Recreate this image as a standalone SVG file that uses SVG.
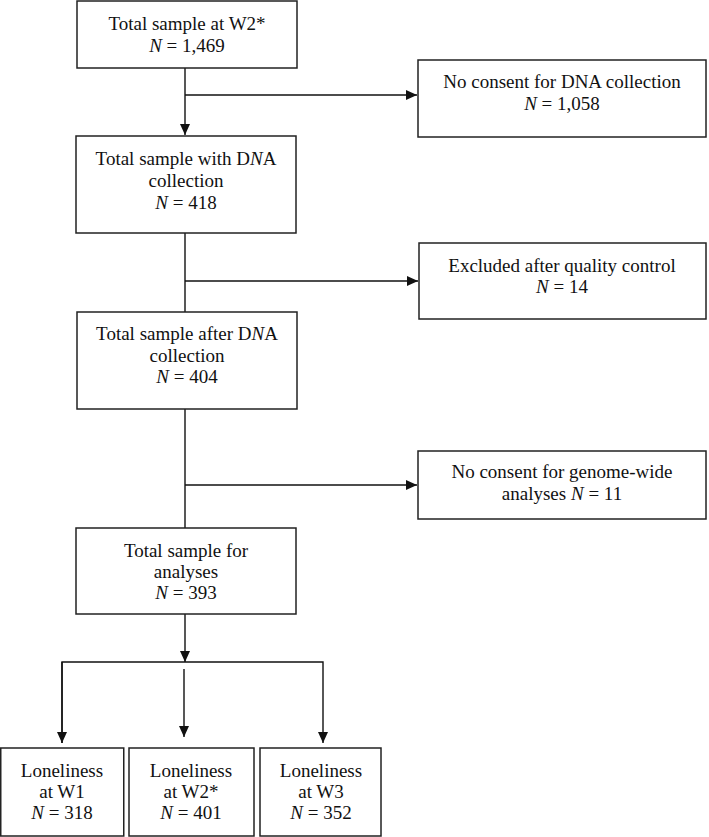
<svg xmlns="http://www.w3.org/2000/svg" width="709" height="837" viewBox="0 0 709 837">
<style>
.box{fill:#fff;stroke:#222;stroke-width:1.5}
.ln{fill:none;stroke:#111;stroke-width:1.4}
text{font-family:"Liberation Serif","Times New Roman",serif;font-size:19px;fill:#111;text-anchor:middle}
.i{font-style:italic}
</style>
<defs>
<marker id="ah" markerUnits="userSpaceOnUse" markerWidth="12" markerHeight="10" refX="11" refY="5" orient="auto">
<path d="M0,0 L11,5 L0,10 Z" fill="#111"/>
</marker>
</defs>
<rect width="709" height="837" fill="#fff"/>
<g id="connectors">
<path class="ln" d="M185,68 V135" marker-end="url(#ah)"/>
<path class="ln" d="M185,95 H417" marker-end="url(#ah)"/>
<path class="ln" d="M185,233 V312"/>
<path class="ln" d="M185,281 H418" marker-end="url(#ah)"/>
<path class="ln" d="M185,409 V528"/>
<path class="ln" d="M185,485 H417" marker-end="url(#ah)"/>
<path class="ln" d="M185,614 V662" marker-end="url(#ah)"/>
<path class="ln" d="M62,743 V662 H323 V743" marker-end="url(#ah)"/>
<path class="ln" d="M62,662 V743" marker-end="url(#ah)"/>
<path class="ln" d="M184,669 V737" marker-end="url(#ah)"/>
</g>
<g id="n1"><rect class="box" x="77" y="1" width="220" height="67"/>
<text x="187" y="30">Total sample at W2*</text><text x="187" y="52"><tspan class="i">N</tspan> = 1,469</text></g>
<g id="n2"><rect class="box" x="418" y="60" width="288" height="77"/>
<text x="562" y="88">No consent for DNA collection</text><text x="562" y="110"><tspan class="i">N</tspan> = 1,058</text></g>
<g id="n3"><rect class="box" x="76" y="136" width="220" height="97"/>
<text x="186" y="165">Total sample with D<tspan class="i">N</tspan>A</text><text x="186" y="187">collection</text><text x="186" y="209"><tspan class="i">N</tspan> = 418</text></g>
<g id="n4"><rect class="box" x="419" y="243" width="287" height="76"/>
<text x="562" y="272">Excluded after quality control</text><text x="562" y="293"><tspan class="i">N</tspan> = 14</text></g>
<g id="n5"><rect class="box" x="77" y="312" width="220" height="97"/>
<text x="187" y="340">Total sample after D<tspan class="i">N</tspan>A</text><text x="187" y="362">collection</text><text x="187" y="383"><tspan class="i">N</tspan> = 404</text></g>
<g id="n6"><rect class="box" x="418" y="451" width="288" height="68"/>
<text x="562" y="478">No consent for genome-wide</text><text x="562" y="500">analyses <tspan class="i">N</tspan> = 11</text></g>
<g id="n7"><rect class="box" x="76" y="528" width="220" height="86"/>
<text x="186" y="557">Total sample for</text><text x="186" y="578">analyses</text><text x="186" y="599"><tspan class="i">N</tspan> = 393</text></g>
<g id="n8"><rect class="box" x="0.75" y="748" width="123" height="88"/>
<text x="62" y="777">Loneliness</text><text x="62" y="798">at W1</text><text x="62" y="819"><tspan class="i">N</tspan> = 318</text></g>
<g id="n9"><rect class="box" x="129" y="748" width="125" height="88"/>
<text x="191" y="777">Loneliness</text><text x="191" y="798">at W2*</text><text x="191" y="819"><tspan class="i">N</tspan> = 401</text></g>
<g id="n10"><rect class="box" x="260" y="748" width="121" height="88"/>
<text x="321" y="777">Loneliness</text><text x="321" y="798">at W3</text><text x="321" y="819"><tspan class="i">N</tspan> = 352</text></g>
</svg>
